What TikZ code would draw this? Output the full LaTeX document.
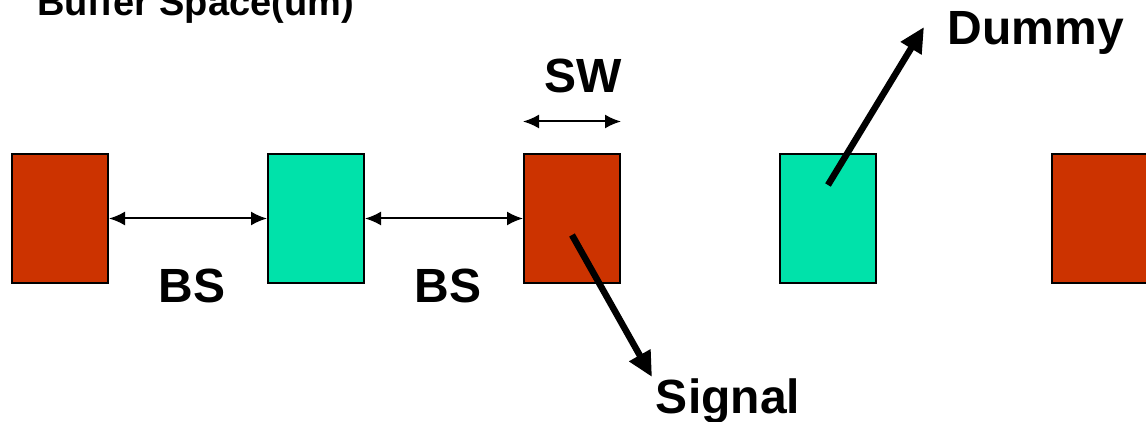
\documentclass[tikz,border=0pt]{standalone}
\usepackage{fontspec}
\setmainfont{Liberation Sans}
\usetikzlibrary{arrows.meta}

\definecolor{sigred}{RGB}{204,51,0}
\definecolor{dumgreen}{RGB}{0,226,170}

\tikzset{
  wire/.style={draw=black, line width=2pt, inner sep=0pt, minimum width=96pt, minimum height=128pt},
  sigwire/.style={wire, fill=sigred},
  dumwire/.style={wire, fill=dumgreen},
  dim/.style={{Latex[length=16pt,width=14pt]}-{Latex[length=16pt,width=14pt]}, line width=2pt},
  callout/.style={-{Triangle[length=25pt,width=23pt]}, line width=6.5pt},
  lbl/.style={font=\bfseries\fontsize{48}{50}\selectfont, anchor=base, inner sep=0pt}
}

\begin{document}
\begin{tikzpicture}[x=1pt, y=-1pt]
\useasboundingbox (0,0) rectangle (1146,422);
\clip (0,0) rectangle (1146,422);

% wires, one pitch apart
\node[sigwire] (s1) at (60,218.5) {};
\node[dumwire] (d1) at (316,218.5) {};
\node[sigwire] (s2) at (572,218.5) {};
\node[dumwire] (d2) at (828,218.5) {};
\node[sigwire] (s3) at (1100,218.5) {};

% buffer space and width
\draw[dim] (s1.east) -- (d1.west);
\draw[dim] (d1.east) -- (s2.west);
\draw[dim] ([yshift=32pt]s2.north west) -- ([yshift=32pt]s2.north east);

\node[lbl] (bs1) at (192,302) {BS};
\node[lbl] (bs2) at (448,302) {BS};
\node[lbl] (sw) at (583,93) {SW};
\node[lbl] (sig) at (728,413) {Signal};
\node[lbl] (dum) at (1036,45) {Dummy};
\node[font=\bfseries\fontsize{38}{40}\selectfont, anchor=base west, inner sep=0pt] (title) at (37,16) {Buffer Space(um)};

% callouts
\coordinate (sigfoot) at (572,235);
\coordinate (sigtip) at (652,377);
\coordinate (dumfoot) at (828,185);
\coordinate (dumtip) at (924,27);
\draw[callout] (sigfoot) -- (sigtip);
\draw[callout] (dumfoot) -- (dumtip);
\end{tikzpicture}
\end{document}
